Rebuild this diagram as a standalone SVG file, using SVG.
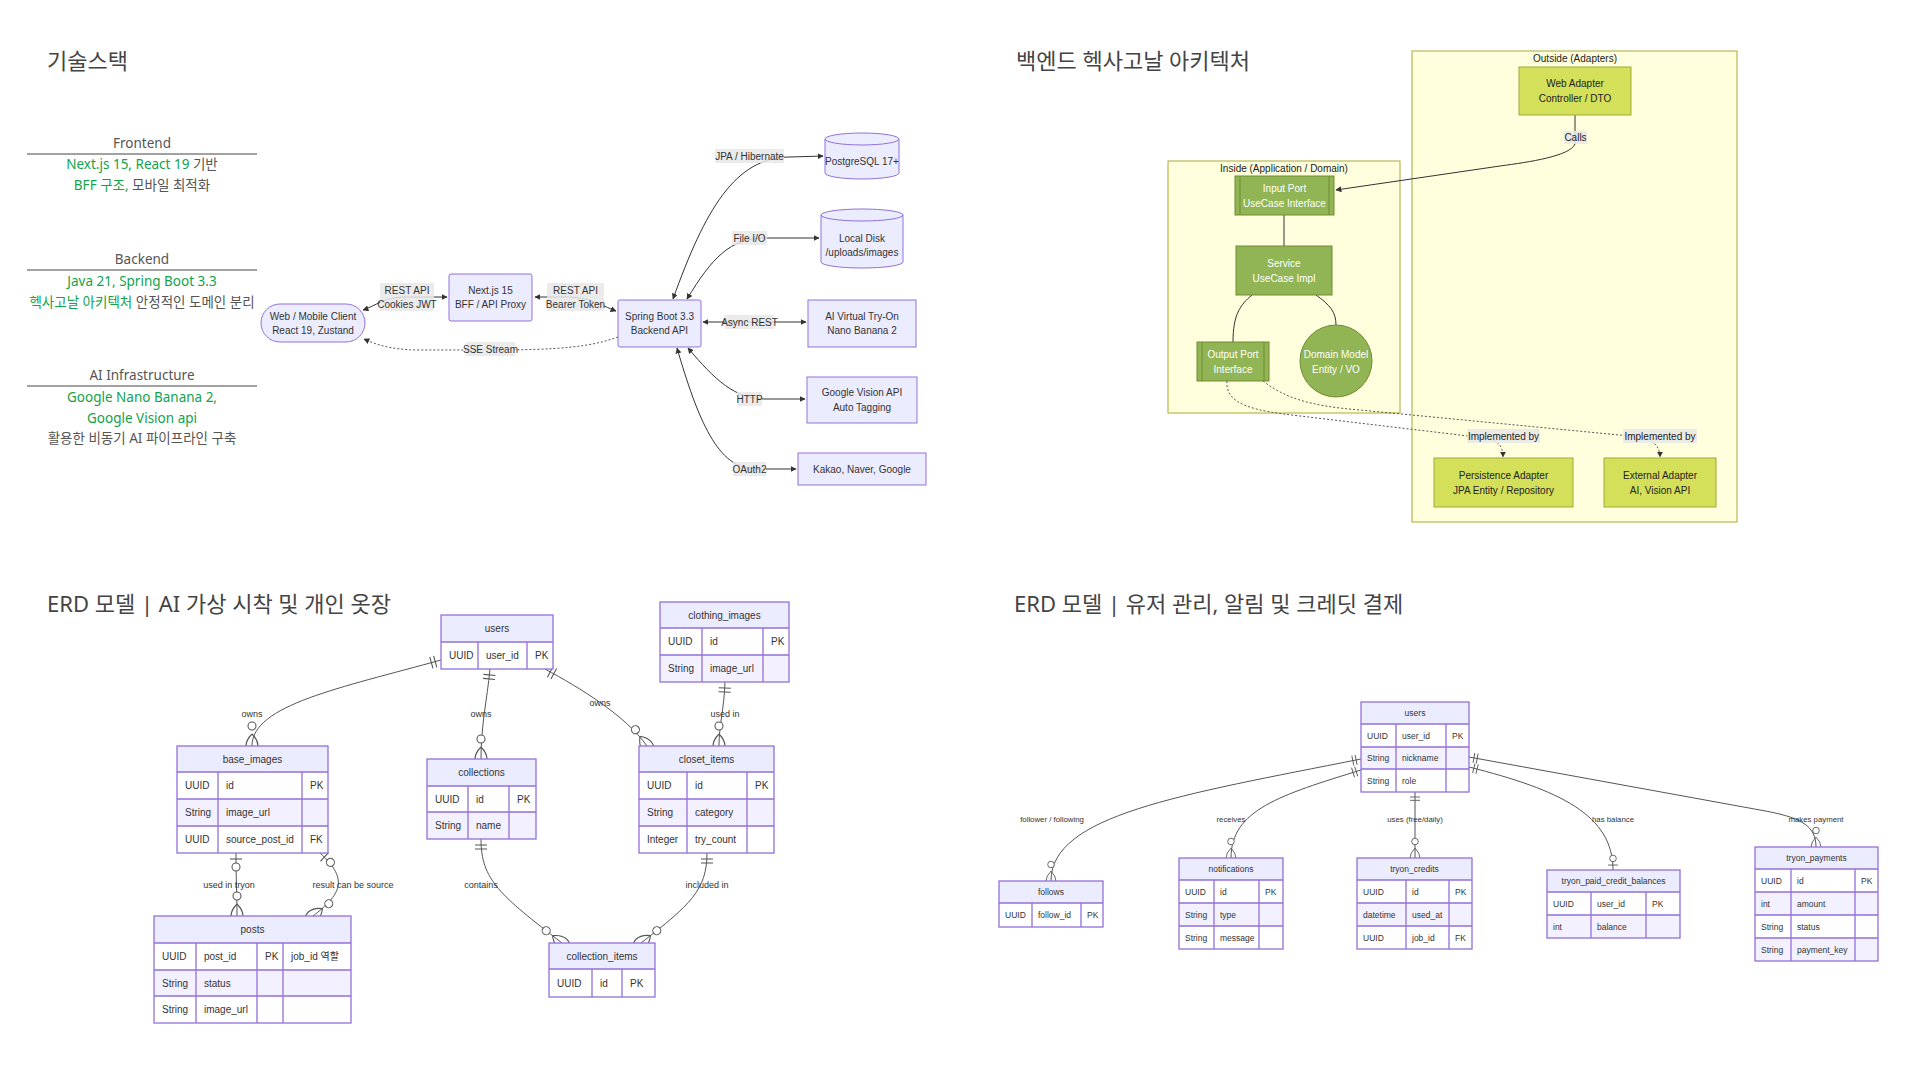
<svg xmlns="http://www.w3.org/2000/svg" width="1920" height="1080" viewBox="0 0 1920 1080">
<style>
text{font-family:"Liberation Sans","Noto Sans CJK KR",sans-serif;fill:#333}
.title{font-family:"Noto Sans","Noto Sans CJK KR",sans-serif;font-size:22px;fill:#444}
.ts{font-family:"Noto Sans","Noto Sans CJK KR",sans-serif;font-size:13.5px;text-anchor:middle;fill:#555}
.g{fill:#12a34c}
.sep{stroke:#444;stroke-width:1}
.fn{fill:#ECECFF;stroke:#9370DB;stroke-width:1}
.ft{font-size:10px;text-anchor:middle}
.lb{fill:#e8e8e8;opacity:.85}
.e{fill:none;stroke:#333;stroke-width:1}
.ed{fill:none;stroke:#555;stroke-width:1;stroke-dasharray:2 2}
.cl{fill:#ffffde;stroke:#aaaa33;stroke-width:1}
.hin{fill:#91b455;stroke:#6e8c32;stroke-width:1}
.hout{fill:#d4e05a;stroke:#a0aa3c;stroke-width:1}
.tw{font-size:10px;text-anchor:middle;fill:#fff}
.tb{font-size:10px;text-anchor:middle;fill:#222}
.eh{fill:#ECECFF}
.r0{fill:#ffffff}
.r1{fill:#f3f1ff}
.eo{fill:none;stroke:#9370DB;stroke-width:1.3}
.ec{fill:none;stroke:#9370DB;stroke-width:1.3}
.th{font-size:10px;text-anchor:middle}
.t{font-size:10px}
.thr{font-size:8.5px;text-anchor:middle}
.tr{font-size:8.5px}
.rel{fill:none;stroke:#555;stroke-width:1}
.rl{font-size:9px;text-anchor:middle;fill:#333}
.rlr{font-size:7.8px;text-anchor:middle;fill:#333}
.mk{fill:none;stroke:#555;stroke-width:1.6}
.mc{fill:#fff;stroke:#555;stroke-width:1.6}
</style>
<defs>
<marker id="arr" viewBox="0 0 10 10" refX="9" refY="5" markerWidth="6" markerHeight="6" markerUnits="userSpaceOnUse" orient="auto-start-reverse"><path d="M0,0 L10,5 L0,10 z" fill="#333"/></marker>
<marker id="oneStartL" viewBox="0 0 18 18" refX="0" refY="9" markerWidth="12" markerHeight="12" markerUnits="userSpaceOnUse" orient="auto" overflow="visible"><path class="mk" d="M9,0 L9,18 M15,0 L15,18"/></marker>
<marker id="zoStartL" viewBox="0 0 30 18" refX="0" refY="9" markerWidth="20" markerHeight="12" markerUnits="userSpaceOnUse" orient="auto" overflow="visible"><path class="mk" d="M9,0 L9,18"/><circle class="mc" cx="21" cy="9" r="6"/></marker>
<marker id="zmEndL" viewBox="0 0 57 36" refX="39" refY="18" markerWidth="38" markerHeight="24" markerUnits="userSpaceOnUse" orient="auto" overflow="visible"><circle class="mc" cx="9" cy="18" r="6"/><path class="mk" d="M21,18 Q39,0 57,18 Q39,36 21,18"/></marker>
<marker id="oneStartR" viewBox="0 0 18 18" refX="0" refY="9" markerWidth="10" markerHeight="10" markerUnits="userSpaceOnUse" orient="auto" overflow="visible"><path class="mk" d="M9,0 L9,18 M15,0 L15,18"/></marker>
<marker id="zmEndR" viewBox="0 0 57 36" refX="39" refY="18" markerWidth="31.4" markerHeight="19.8" markerUnits="userSpaceOnUse" orient="auto" overflow="visible"><circle class="mc" cx="9" cy="18" r="6"/><path class="mk" d="M21,18 Q39,0 57,18 Q39,36 21,18"/></marker>
<marker id="zoEndR" viewBox="0 0 30 18" refX="30" refY="9" markerWidth="16.5" markerHeight="9.9" markerUnits="userSpaceOnUse" orient="auto" overflow="visible"><circle class="mc" cx="9" cy="9" r="6"/><path class="mk" d="M21,0 L21,18"/></marker>
</defs>
<rect width="1920" height="1080" fill="#fff"/>

<!-- ===== Tech stack ===== -->
<g id="techstack">
<text class="title" x="47" y="69">기술스택</text>
<text class="ts" x="142" y="148">Frontend</text>
<line class="sep" x1="27" y1="154" x2="257" y2="154"/>
<text class="ts" x="142" y="169"><tspan class="g">Next.js 15, React 19</tspan> 기반</text>
<text class="ts" x="142" y="190"><tspan class="g">BFF 구조,</tspan> 모바일 최적화</text>
<text class="ts" x="142" y="264">Backend</text>
<line class="sep" x1="27" y1="270" x2="257" y2="270"/>
<text class="ts" x="142" y="286"><tspan class="g">Java 21, Spring Boot 3.3</tspan></text>
<text class="ts" x="142" y="307"><tspan class="g">헥사고날 아키텍처</tspan> 안정적인 도메인 분리</text>
<text class="ts" x="142" y="380">AI Infrastructure</text>
<line class="sep" x1="27" y1="386" x2="257" y2="386"/>
<text class="ts" x="142" y="402"><tspan class="g">Google Nano Banana 2,</tspan></text>
<text class="ts" x="142" y="423"><tspan class="g">Google Vision api</tspan></text>
<text class="ts" x="142" y="443">활용한 비동기 AI 파이프라인 구축</text>
</g>

<!-- ===== Architecture flowchart ===== -->
<g id="arch-edges">
<path class="e" d="M363,310 C375,306 385,297 405,297 L447,297" marker-start="url(#arr)" marker-end="url(#arr)"/>
<path class="e" d="M535,297 L565,297 C590,297 600,305 616,311" marker-start="url(#arr)" marker-end="url(#arr)"/>
<path class="ed" d="M618,337 C590,347 560,350 490,350 L420,350 C390,350 375,344 364,339" marker-end="url(#arr)"/>
<path class="e" d="M673,299 C705,210 735,157 790,157 L823,156" marker-start="url(#arr)" marker-end="url(#arr)"/>
<path class="e" d="M687,299 C712,258 730,238 765,238 L819,238" marker-start="url(#arr)" marker-end="url(#arr)"/>
<path class="e" d="M703,322 L806,322" marker-start="url(#arr)" marker-end="url(#arr)"/>
<path class="e" d="M688,348 C715,380 735,399 765,399 L805,399" marker-start="url(#arr)" marker-end="url(#arr)"/>
<path class="e" d="M677,348 C698,420 718,469 755,469 L796,469" marker-start="url(#arr)" marker-end="url(#arr)"/>
</g>
<g id="arch-client"><rect class="fn" x="261" y="304" width="104" height="38" rx="19"/><text class="ft" x="313" y="319.5">Web / Mobile Client</text><text class="ft" x="313" y="333.5">React 19, Zustand</text></g>
<g id="arch-bff"><rect class="fn" x="449" y="274" width="83" height="47" rx="2"/><text class="ft" x="490.5" y="293.5">Next.js 15</text><text class="ft" x="490.5" y="307.5">BFF / API Proxy</text></g>
<g id="arch-spring"><rect class="fn" x="618" y="300" width="83" height="47" rx="2"/><text class="ft" x="659.5" y="319.5">Spring Boot 3.3</text><text class="ft" x="659.5" y="333.5">Backend API</text></g>
<g id="arch-pg"><path class="fn" d="M825,139 a37,6 0 0,0 74,0 a37,6 0 0,0 -74,0 l0,34 a37,6 0 0,0 74,0 l0,-34"/><text class="ft" x="862" y="165">PostgreSQL 17+</text></g>
<g id="arch-disk"><path class="fn" d="M821,215 a41,6 0 0,0 82,0 a41,6 0 0,0 -82,0 l0,47 a41,6 0 0,0 82,0 l0,-47"/><text class="ft" x="862" y="241.5">Local Disk</text><text class="ft" x="862" y="255.5">/uploads/images</text></g>
<g id="arch-tryon"><rect class="fn" x="808" y="300" width="108" height="47"/><text class="ft" x="862" y="319.5">AI Virtual Try-On</text><text class="ft" x="862" y="333.5">Nano Banana 2</text></g>
<g id="arch-vision"><rect class="fn" x="807" y="377" width="110" height="46"/><text class="ft" x="862" y="395.5">Google Vision API</text><text class="ft" x="862" y="410.5">Auto Tagging</text></g>
<g id="arch-oauth"><rect class="fn" x="798" y="453" width="128" height="32"/><text class="ft" x="862" y="472.5">Kakao, Naver, Google</text></g>
<g id="arch-labels">
<rect class="lb" x="380" y="283" width="54" height="28"/><text class="ft" x="407" y="293.5">REST API</text><text class="ft" x="407" y="307.5">Cookies JWT</text>
<rect class="lb" x="547" y="283" width="57" height="28"/><text class="ft" x="575.5" y="293.5">REST API</text><text class="ft" x="575.5" y="307.5">Bearer Token</text>
<rect class="lb" x="466" y="342" width="49" height="14"/><text class="ft" x="490.5" y="352.5">SSE Stream</text>
<rect class="lb" x="715" y="149" width="69" height="14"/><text class="ft" x="749.5" y="159.5">JPA / Hibernate</text>
<rect class="lb" x="732" y="231" width="35" height="14"/><text class="ft" x="749.5" y="241.5">File I/O</text>
<rect class="lb" x="725" y="315" width="49" height="14"/><text class="ft" x="749.5" y="325.5">Async REST</text>
<rect class="lb" x="737" y="392" width="25" height="14"/><text class="ft" x="749.5" y="402.5">HTTP</text>
<rect class="lb" x="733" y="462" width="33" height="14"/><text class="ft" x="749.5" y="472.5">OAuth2</text>
</g>

<!-- ===== Hexagonal ===== -->
<text class="title" x="1016" y="69">백엔드 헥사고날 아키텍처</text>
<g id="hex-outside"><rect class="cl" x="1412" y="51" width="325" height="471"/><text class="tb" x="1575" y="61.5">Outside (Adapters)</text></g>
<g id="hex-inside"><rect class="cl" x="1168" y="161" width="232" height="252"/><text class="tb" x="1284" y="171.5">Inside (Application / Domain)</text></g>
<g id="hex-edges">
<path class="e" d="M1284,215 L1284,246"/>
<path class="e" d="M1252,295 C1240,305 1233,315 1233,342"/>
<path class="e" d="M1316,295 C1330,305 1336,312 1336,325"/>
<path class="e" d="M1575,115 L1575,144 C1570,156 1530,162 1500,166 L1336,190" marker-end="url(#arr)"/>
<path class="ed" d="M1227,381 C1225,405 1255,411 1300,416 L1485,438 C1498,440 1503,446 1503,457" marker-end="url(#arr)"/>
<path class="ed" d="M1263,381 C1285,398 1310,406 1360,410 L1640,437 C1652,439 1660,446 1660,457" marker-end="url(#arr)"/>
</g>
<g id="hex-web"><rect class="hout" x="1519" y="67" width="112" height="48"/><text class="tb" x="1575" y="86.5">Web Adapter</text><text class="tb" x="1575" y="101.5">Controller / DTO</text></g>
<g id="hex-inport"><rect class="hin" x="1235" y="176" width="99" height="39"/><path class="hin" d="M1240,176V215M1329,176V215"/><text class="tw" x="1284.5" y="191.5">Input Port</text><text class="tw" x="1284.5" y="206.5">UseCase Interface</text></g>
<g id="hex-service"><rect class="hin" x="1236" y="246" width="96" height="49"/><text class="tw" x="1284" y="266.5">Service</text><text class="tw" x="1284" y="281.5">UseCase Impl</text></g>
<g id="hex-outport"><rect class="hin" x="1197" y="342" width="72" height="39"/><path class="hin" d="M1202,342V381M1264,342V381"/><text class="tw" x="1233" y="357.5">Output Port</text><text class="tw" x="1233" y="372.5">Interface</text></g>
<g id="hex-domain"><circle class="hin" cx="1336" cy="361" r="36"/><text class="tw" x="1336" y="357.5">Domain Model</text><text class="tw" x="1336" y="372.5">Entity / VO</text></g>
<g id="hex-persist"><rect class="hout" x="1434" y="458" width="139" height="49"/><text class="tb" x="1503.5" y="478.5">Persistence Adapter</text><text class="tb" x="1503.5" y="493.5">JPA Entity / Repository</text></g>
<g id="hex-external"><rect class="hout" x="1604" y="458" width="112" height="49"/><text class="tb" x="1660" y="478.5">External Adapter</text><text class="tb" x="1660" y="493.5">AI, Vision API</text></g>
<g id="hex-labels">
<rect class="lb" x="1564" y="131" width="23" height="13"/><text class="tb" x="1575.5" y="141">Calls</text>
<rect class="lb" x="1467" y="429" width="73" height="14"/><text class="tb" x="1503.5" y="439.5">Implemented by</text>
<rect class="lb" x="1623" y="429" width="74" height="14"/><text class="tb" x="1660" y="439.5">Implemented by</text>
</g>

<!-- ===== ERD left ===== -->
<text class="title" x="47" y="612">ERD 모델 | AI 가상 시착 및 개인 옷장</text>
<g id="erdL-edges">
<path class="rel" d="M441,660 C340,688 252,705 252,746" marker-start="url(#oneStartL)" marker-end="url(#zmEndL)"/>
<path class="rel" d="M490,669 C487,700 481,725 481,759" marker-start="url(#oneStartL)" marker-end="url(#zmEndL)"/>
<path class="rel" d="M545,669 C580,688 625,715 647,746" marker-start="url(#oneStartL)" marker-end="url(#zmEndL)"/>
<path class="rel" d="M725,682 C724,710 719,725 719,746" marker-start="url(#oneStartL)" marker-end="url(#zmEndL)"/>
<path class="rel" d="M481,839 C481,880 500,895 562,943" marker-start="url(#oneStartL)" marker-end="url(#zmEndL)"/>
<path class="rel" d="M707,853 C707,890 690,905 641,943" marker-start="url(#oneStartL)" marker-end="url(#zmEndL)"/>
<path class="rel" d="M236,853 C236,880 237,895 237,916" marker-start="url(#zoStartL)" marker-end="url(#zmEndL)"/>
<path class="rel" d="M320,853 C350,880 340,895 313,916" marker-start="url(#zoStartL)" marker-end="url(#zmEndL)"/>
<text class="rl" x="252" y="717">owns</text>
<text class="rl" x="481" y="717">owns</text>
<text class="rl" x="600" y="706">owns</text>
<text class="rl" x="725" y="717">used in</text>
<text class="rl" x="229" y="888">used in tryon</text>
<text class="rl" x="353" y="888">result can be source</text>
<text class="rl" x="481" y="888">contains</text>
<text class="rl" x="707" y="888">included in</text>
</g>
<g id="erdL-users">
<rect class="eh" x="441" y="615" width="112" height="27"/><rect class="r0" x="441" y="642" width="112" height="27"/>
<path class="ec" d="M441,642H553M478,642V669M527,642V669"/><rect class="eo" x="441" y="615" width="112" height="54"/>
<text class="th" x="497" y="632">users</text>
<text class="t" x="449" y="659">UUID</text><text class="t" x="486" y="659">user_id</text><text class="t" x="535" y="659">PK</text>
</g>
<g id="erdL-base_images">
<rect class="eh" x="177" y="746" width="151" height="26"/><rect class="r0" x="177" y="772" width="151" height="27"/><rect class="r1" x="177" y="799" width="151" height="27"/><rect class="r0" x="177" y="826" width="151" height="27"/>
<path class="ec" d="M177,772H328M177,799H328M177,826H328M218,772V853M302,772V853"/><rect class="eo" x="177" y="746" width="151" height="107"/>
<text class="th" x="252.5" y="762.5">base_images</text>
<text class="t" x="185" y="789">UUID</text><text class="t" x="226" y="789">id</text><text class="t" x="310" y="789">PK</text>
<text class="t" x="185" y="816">String</text><text class="t" x="226" y="816">image_url</text>
<text class="t" x="185" y="843">UUID</text><text class="t" x="226" y="843">source_post_id</text><text class="t" x="310" y="843">FK</text>
</g>
<g id="erdL-posts">
<rect class="eh" x="154" y="916" width="197" height="27"/><rect class="r0" x="154" y="943" width="197" height="27"/><rect class="r1" x="154" y="970" width="197" height="26"/><rect class="r0" x="154" y="996" width="197" height="27"/>
<path class="ec" d="M154,943H351M154,970H351M154,996H351M196,943V1023M257,943V1023M283,943V1023"/><rect class="eo" x="154" y="916" width="197" height="107"/>
<text class="th" x="252.5" y="933">posts</text>
<text class="t" x="162" y="960">UUID</text><text class="t" x="204" y="960">post_id</text><text class="t" x="265" y="960">PK</text><text class="t" x="291" y="960">job_id 역할</text>
<text class="t" x="162" y="986.5">String</text><text class="t" x="204" y="986.5">status</text>
<text class="t" x="162" y="1013">String</text><text class="t" x="204" y="1013">image_url</text>
</g>
<g id="erdL-collections">
<rect class="eh" x="427" y="759" width="109" height="27"/><rect class="r0" x="427" y="786" width="109" height="26"/><rect class="r1" x="427" y="812" width="109" height="27"/>
<path class="ec" d="M427,786H536M427,812H536M468,786V839M509,786V839"/><rect class="eo" x="427" y="759" width="109" height="80"/>
<text class="th" x="481.5" y="776">collections</text>
<text class="t" x="435" y="802.5">UUID</text><text class="t" x="476" y="802.5">id</text><text class="t" x="517" y="802.5">PK</text>
<text class="t" x="435" y="829">String</text><text class="t" x="476" y="829">name</text>
</g>
<g id="erdL-collection_items">
<rect class="eh" x="549" y="943" width="106" height="26"/><rect class="r0" x="549" y="969" width="106" height="28"/>
<path class="ec" d="M549,969H655M592,969V997M622,969V997"/><rect class="eo" x="549" y="943" width="106" height="54"/>
<text class="th" x="602" y="959.5">collection_items</text>
<text class="t" x="557" y="986.5">UUID</text><text class="t" x="600" y="986.5">id</text><text class="t" x="630" y="986.5">PK</text>
</g>
<g id="erdL-closet_items">
<rect class="eh" x="639" y="746" width="135" height="26"/><rect class="r0" x="639" y="772" width="135" height="27"/><rect class="r1" x="639" y="799" width="135" height="27"/><rect class="r0" x="639" y="826" width="135" height="27"/>
<path class="ec" d="M639,772H774M639,799H774M639,826H774M687,772V853M747,772V853"/><rect class="eo" x="639" y="746" width="135" height="107"/>
<text class="th" x="706.5" y="762.5">closet_items</text>
<text class="t" x="647" y="789">UUID</text><text class="t" x="695" y="789">id</text><text class="t" x="755" y="789">PK</text>
<text class="t" x="647" y="816">String</text><text class="t" x="695" y="816">category</text>
<text class="t" x="647" y="843">Integer</text><text class="t" x="695" y="843">try_count</text>
</g>
<g id="erdL-clothing_images">
<rect class="eh" x="660" y="602" width="129" height="26"/><rect class="r0" x="660" y="628" width="129" height="27"/><rect class="r1" x="660" y="655" width="129" height="27"/>
<path class="ec" d="M660,628H789M660,655H789M702,628V682M763,628V682"/><rect class="eo" x="660" y="602" width="129" height="80"/>
<text class="th" x="724.5" y="618.5">clothing_images</text>
<text class="t" x="668" y="645">UUID</text><text class="t" x="710" y="645">id</text><text class="t" x="771" y="645">PK</text>
<text class="t" x="668" y="672">String</text><text class="t" x="710" y="672">image_url</text>
</g>

<!-- ===== ERD right ===== -->
<text class="title" x="1014" y="612">ERD 모델 | 유저 관리, 알림 및 크레딧 결제</text>
<g id="erdR-edges">
<path class="rel" d="M1361,759 C1180,795 1051,815 1051,881" marker-start="url(#oneStartR)" marker-end="url(#zmEndR)"/>
<path class="rel" d="M1361,770 C1280,795 1231,810 1231,858" marker-start="url(#oneStartR)" marker-end="url(#zmEndR)"/>
<path class="rel" d="M1415,792 L1415,858" marker-start="url(#oneStartR)" marker-end="url(#zmEndR)"/>
<path class="rel" d="M1469,767 C1560,790 1613,815 1613,870" marker-start="url(#oneStartR)" marker-end="url(#zoEndR)"/>
<path class="rel" d="M1469,757 L1760,810 C1800,817 1816,825 1816,847" marker-start="url(#oneStartR)" marker-end="url(#zmEndR)"/>
<text class="rlr" x="1052" y="822">follower / following</text>
<text class="rlr" x="1231" y="822">receives</text>
<text class="rlr" x="1415" y="822">uses (free/daily)</text>
<text class="rlr" x="1613" y="822">has balance</text>
<text class="rlr" x="1816" y="822">makes payment</text>
</g>
<g id="erdR-users">
<rect class="eh" x="1361" y="702" width="108" height="22"/><rect class="r0" x="1361" y="724" width="108" height="23"/><rect class="r1" x="1361" y="747" width="108" height="22"/><rect class="r0" x="1361" y="769" width="108" height="23"/>
<path class="ec" d="M1361,724H1469M1361,747H1469M1361,769H1469M1396,724V792M1446,724V792"/><rect class="eo" x="1361" y="702" width="108" height="90"/>
<text class="thr" x="1415" y="716">users</text>
<text class="tr" x="1367" y="738.5">UUID</text><text class="tr" x="1402" y="738.5">user_id</text><text class="tr" x="1452" y="738.5">PK</text>
<text class="tr" x="1367" y="761">String</text><text class="tr" x="1402" y="761">nickname</text>
<text class="tr" x="1367" y="783.5">String</text><text class="tr" x="1402" y="783.5">role</text>
</g>
<g id="erdR-follows">
<rect class="eh" x="999" y="881" width="104" height="22"/><rect class="r0" x="999" y="903" width="104" height="24"/>
<path class="ec" d="M999,903H1103M1032,903V927M1081,903V927"/><rect class="eo" x="999" y="881" width="104" height="46"/>
<text class="thr" x="1051" y="895">follows</text>
<text class="tr" x="1005" y="918">UUID</text><text class="tr" x="1038" y="918">follow_id</text><text class="tr" x="1087" y="918">PK</text>
</g>
<g id="erdR-notifications">
<rect class="eh" x="1179" y="858" width="104" height="22"/><rect class="r0" x="1179" y="880" width="104" height="23"/><rect class="r1" x="1179" y="903" width="104" height="23"/><rect class="r0" x="1179" y="926" width="104" height="23"/>
<path class="ec" d="M1179,880H1283M1179,903H1283M1179,926H1283M1214,880V949M1259,880V949"/><rect class="eo" x="1179" y="858" width="104" height="91"/>
<text class="thr" x="1231" y="872">notifications</text>
<text class="tr" x="1185" y="894.5">UUID</text><text class="tr" x="1220" y="894.5">id</text><text class="tr" x="1265" y="894.5">PK</text>
<text class="tr" x="1185" y="917.5">String</text><text class="tr" x="1220" y="917.5">type</text>
<text class="tr" x="1185" y="940.5">String</text><text class="tr" x="1220" y="940.5">message</text>
</g>
<g id="erdR-tryon_credits">
<rect class="eh" x="1357" y="858" width="115" height="22"/><rect class="r0" x="1357" y="880" width="115" height="23"/><rect class="r1" x="1357" y="903" width="115" height="23"/><rect class="r0" x="1357" y="926" width="115" height="23"/>
<path class="ec" d="M1357,880H1472M1357,903H1472M1357,926H1472M1406,880V949M1449,880V949"/><rect class="eo" x="1357" y="858" width="115" height="91"/>
<text class="thr" x="1414.5" y="872">tryon_credits</text>
<text class="tr" x="1363" y="894.5">UUID</text><text class="tr" x="1412" y="894.5">id</text><text class="tr" x="1455" y="894.5">PK</text>
<text class="tr" x="1363" y="917.5">datetime</text><text class="tr" x="1412" y="917.5">used_at</text>
<text class="tr" x="1363" y="940.5">UUID</text><text class="tr" x="1412" y="940.5">job_id</text><text class="tr" x="1455" y="940.5">FK</text>
</g>
<g id="erdR-tryon_paid_credit_balances">
<rect class="eh" x="1547" y="870" width="133" height="22"/><rect class="r0" x="1547" y="892" width="133" height="23"/><rect class="r1" x="1547" y="915" width="133" height="23"/>
<path class="ec" d="M1547,892H1680M1547,915H1680M1591,892V938M1646,892V938"/><rect class="eo" x="1547" y="870" width="133" height="68"/>
<text class="thr" x="1613.5" y="884">tryon_paid_credit_balances</text>
<text class="tr" x="1553" y="906.5">UUID</text><text class="tr" x="1597" y="906.5">user_id</text><text class="tr" x="1652" y="906.5">PK</text>
<text class="tr" x="1553" y="929.5">int</text><text class="tr" x="1597" y="929.5">balance</text>
</g>
<g id="erdR-tryon_payments">
<rect class="eh" x="1755" y="847" width="123" height="22"/><rect class="r0" x="1755" y="869" width="123" height="23"/><rect class="r1" x="1755" y="892" width="123" height="23"/><rect class="r0" x="1755" y="915" width="123" height="23"/><rect class="r1" x="1755" y="938" width="123" height="23"/>
<path class="ec" d="M1755,869H1878M1755,892H1878M1755,915H1878M1755,938H1878M1791,869V961M1855,869V961"/><rect class="eo" x="1755" y="847" width="123" height="114"/>
<text class="thr" x="1816.5" y="861">tryon_payments</text>
<text class="tr" x="1761" y="883.5">UUID</text><text class="tr" x="1797" y="883.5">id</text><text class="tr" x="1861" y="883.5">PK</text>
<text class="tr" x="1761" y="906.5">int</text><text class="tr" x="1797" y="906.5">amount</text>
<text class="tr" x="1761" y="929.5">String</text><text class="tr" x="1797" y="929.5">status</text>
<text class="tr" x="1761" y="952.5">String</text><text class="tr" x="1797" y="952.5">payment_key</text>
</g>
</svg>
